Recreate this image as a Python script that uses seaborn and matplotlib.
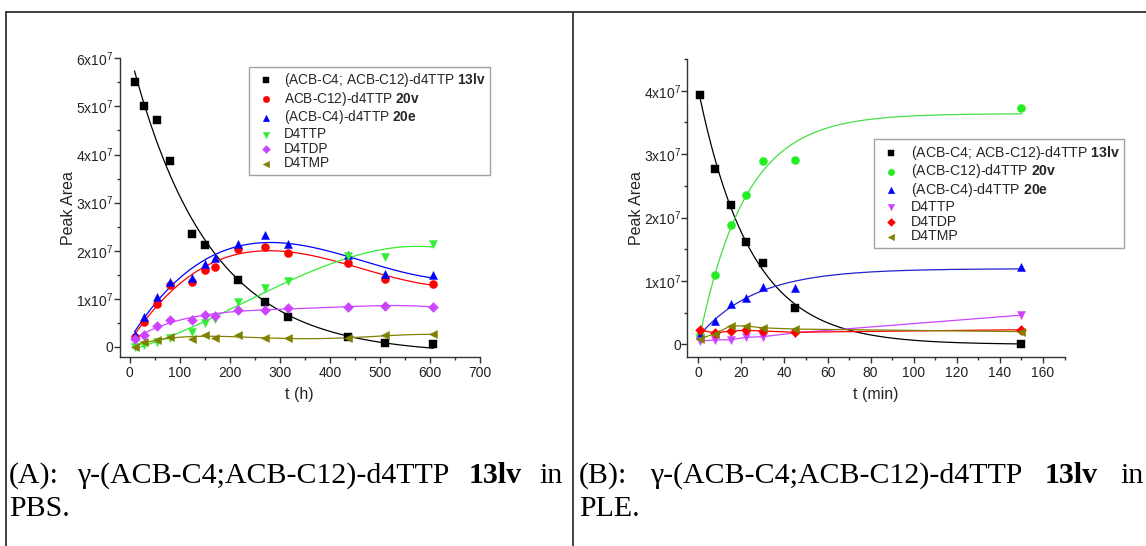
import numpy as np
import matplotlib
matplotlib.use("Agg")
import matplotlib.pyplot as plt
from matplotlib.lines import Line2D
from matplotlib.ticker import MultipleLocator, FuncFormatter
import seaborn as sns

# ---------------- data (peak areas in units of 1e7) ----------------
tA = [10, 28, 54, 80, 124, 150, 170, 217, 270, 317, 437, 511, 607]
tA_black = [10, 28, 54, 80, 124, 150, 217, 270, 317, 437, 511, 607]
A_13lv = [5.51, 5.01, 4.72, 3.87, 2.35, 2.12, 1.40, 0.94, 0.62, 0.20, 0.09, 0.07]
A_20v = [0.20, 0.52, 0.90, 1.28, 1.34, 1.61, 1.67, 2.04, 2.08, 1.95, 1.74, 1.42, 1.31]
A_20e = [0.25, 0.63, 1.03, 1.34, 1.43, 1.73, 1.85, 2.14, 2.33, 2.15, 1.92, 1.51, 1.49]
A_D4TTP = [0.00, 0.05, 0.11, 0.19, 0.32, 0.49, 0.58, 0.94, 1.22, 1.38, 1.90, 1.88, 2.14]
A_D4TDP = [0.17, 0.25, 0.44, 0.55, 0.56, 0.67, 0.65, 0.77, 0.77, 0.80, 0.84, 0.85, 0.83]
A_D4TMP = [0.00, 0.10, 0.15, 0.20, 0.17, 0.24, 0.19, 0.25, 0.18, 0.18, 0.18, 0.24, 0.26]

tB = [1, 8, 15, 22, 30, 45, 150]
B_13lv = [3.93, 2.76, 2.20, 1.62, 1.28, 0.58, 0.00]
B_20v = [0.15, 1.09, 1.88, 2.35, 2.89, 2.91, 3.73]
B_20e = [0.15, 0.37, 0.63, 0.73, 0.91, 0.89, 1.22]
B_D4TTP = [0.05, 0.07, 0.07, 0.11, 0.12, 0.18, 0.46]
B_D4TDP = [0.22, 0.18, 0.21, 0.22, 0.21, 0.19, 0.23]
B_D4TMP = [0.09, 0.17, 0.29, 0.29, 0.26, 0.24, 0.20]

SCALE = 1e7

labels_A = ["(ACB-C4; ACB-C12)-d4TTP $\\mathbf{13lv}$",
            "ACB-C12)-d4TTP $\\mathbf{20v}$",
            "(ACB-C4)-d4TTP $\\mathbf{20e}$",
            "D4TTP", "D4TDP", "D4TMP"]
labels_B = ["(ACB-C4; ACB-C12)-d4TTP $\\mathbf{13lv}$",
            "(ACB-C12)-d4TTP $\\mathbf{20v}$",
            "(ACB-C4)-d4TTP $\\mathbf{20e}$",
            "D4TTP", "D4TDP", "D4TMP"]
caption_A = ["(A):", "\u03b3-(ACB-C4;ACB-C12)-d4TTP", "13lv", "in"]
caption_B = ["(B):", "\u03b3-(ACB-C4;ACB-C12)-d4TTP", "13lv", "in"]
caption_A2 = "PBS."
caption_B2 = "PLE."

# ---------------- style ----------------
sns.set_theme(style="ticks")
plt.rcParams["font.family"] = ["Liberation Sans", "DejaVu Sans"]
plt.rcParams["mathtext.fontset"] = "custom"
plt.rcParams["mathtext.rm"] = "Liberation Sans"
plt.rcParams["mathtext.it"] = "Liberation Sans:italic"
plt.rcParams["mathtext.bf"] = "Liberation Sans:bold"

W, H = 1146, 546
fig = plt.figure(figsize=(W / 100, H / 100), dpi=100)
fig.patch.set_facecolor("white")


def exp_fit_curve(t, y, n=300):
    t = np.asarray(t, float)
    y = np.asarray(y, float)
    best = None
    for k in np.logspace(-4, 0.5, 3000):
        X = np.column_stack([np.exp(-k * t), np.ones_like(t)])
        coef, res, *_ = np.linalg.lstsq(X, y, rcond=None)
        r = np.sum((X @ coef - y) ** 2)
        if best is None or r < best[0]:
            best = (r, k, coef)
    _, k, (a, c) = best
    tt = np.linspace(t.min(), t.max(), n)
    return tt, a * np.exp(-k * tt) + c


def sci_fmt(v, pos):
    m = int(round(v / SCALE))
    if m == 0:
        return "0"
    return f"{m}x10$^{{7}}$"


def style_axes(ax, xmaj, xmin):
    sns.despine(ax=ax)
    for s in ("left", "bottom"):
        ax.spines[s].set_color("#333333")
        ax.spines[s].set_linewidth(1.0)
    ax.xaxis.set_major_locator(MultipleLocator(xmaj))
    ax.xaxis.set_minor_locator(MultipleLocator(xmin))
    ax.yaxis.set_major_locator(MultipleLocator(1e7))
    ax.yaxis.set_minor_locator(MultipleLocator(5e6))
    ax.yaxis.set_major_formatter(FuncFormatter(sci_fmt))
    ax.tick_params(which="major", length=4.3, width=1, color="#333333",
                   labelsize=10, labelcolor="#222222", direction="out", pad=1.8)
    ax.tick_params(axis="y", which="major", pad=0.4)
    ax.tick_params(which="minor", length=2.5, width=1, color="#333333",
                   direction="out")
    ax.set_ylabel("Peak Area", fontsize=11.5, labelpad=0)
    ax.grid(False)


col_black = "#000000"
col_red = "#FF0000"
col_blue = "#0000FF"
col_green = "#33EE33"
col_mag = "#CC44FF"
col_olive = "#808000"

MS = 34
LEG_KW = dict(borderaxespad=0, frameon=True, fancybox=False,
              edgecolor="#8a8a8a", handlelength=1.8, handletextpad=0.45,
              labelspacing=0.05, borderpad=0.32, markerscale=0.8)

# ---------------- panel A ----------------
axA = fig.add_axes([119.5 / W, 1 - 357.3 / H, (480 - 119.5) / W, (357.3 - 58.3) / H])
tt, yy = exp_fit_curve(tA_black, A_13lv)
axA.plot(tt, yy * SCALE, color=col_black, lw=0.9, zorder=2)
for yvals, col, order in [(A_20v, col_red, 3), (A_20e, col_blue, 3),
                          (A_D4TTP, col_green, 3), (A_D4TDP, col_mag, 4),
                          (A_D4TMP, col_olive, 4)]:
    sns.regplot(x=np.array(tA, float), y=np.array(yvals) * SCALE, order=order,
                ci=None, scatter=False, ax=axA, truncate=True,
                line_kws=dict(color=col, lw=0.9, zorder=2))

seriesA = [(tA_black, A_13lv, col_black, "s"), (tA, A_20v, col_red, "o"),
           (tA, A_20e, col_blue, "^"), (tA, A_D4TTP, col_green, "v"),
           (tA, A_D4TDP, col_mag, "D"), (tA, A_D4TMP, col_olive, "<")]
for (t, v, c, m), lab in zip(seriesA, labels_A):
    sns.scatterplot(x=t, y=np.array(v) * SCALE, ax=axA, color=c, marker=m,
                    s=MS if m != "D" else MS * 0.75, edgecolor=c, linewidth=0.3,
                    label=lab, zorder=3)
axA.set_xlim(-20, 700)
axA.set_ylim(-2.15e6, 6.0e7)
style_axes(axA, 100, 50)
axA.set_xlabel("t (h)", fontsize=11.5, labelpad=5)
leg = axA.legend(loc="upper left", bbox_to_anchor=(0.359, 0.972), fontsize=9.85, **LEG_KW)
leg.get_frame().set_linewidth(1.0)

# ---------------- panel B ----------------
axB = fig.add_axes([687.4 / W, 1 - 357.3 / H, (1064.6 - 687.4) / W, (357.3 - 59) / H])
for yvals, col in [(B_13lv, col_black), (B_20v, "#44DD44"), (B_20e, "#2222CC")]:
    tt, yy = exp_fit_curve(tB, yvals)
    axB.plot(tt, yy * SCALE, color=col, lw=0.9, zorder=2)
for yvals, col in [(B_D4TTP, col_mag), (B_D4TDP, col_red), (B_D4TMP, col_olive)]:
    sns.lineplot(x=tB, y=np.array(yvals) * SCALE, ax=axB, color=col, lw=0.9,
                 zorder=2, legend=False)

seriesB = [(B_13lv, col_black, "s"), (B_20v, "#22EE22", "o"), (B_20e, col_blue, "^"),
           (B_D4TTP, col_mag, "v"), (B_D4TDP, col_red, "D"), (B_D4TMP, col_olive, "<")]
for (v, c, m), lab in zip(seriesB, labels_B):
    sns.scatterplot(x=tB, y=np.array(v) * SCALE, ax=axB, color=c, marker=m,
                    s=MS if m != "D" else MS * 0.75, edgecolor=c, linewidth=0.3,
                    label=lab, zorder=3)
axB.set_xlim(-5, 170)
axB.set_ylim(-2.05e6, 4.5e7)
style_axes(axB, 20, 10)
axB.set_xlabel("t (min)", fontsize=11.5, labelpad=5)
legB = axB.legend(loc="upper left", bbox_to_anchor=(0.495, 0.731), fontsize=10.2, **LEG_KW)
legB.get_frame().set_linewidth(1.0)

# ---------------- table borders ----------------
def fig_line(x0, y0, x1, y1):
    fig.add_artist(Line2D([x0 / W, x1 / W], [1 - y0 / H, 1 - y1 / H],
                          transform=fig.transFigure, color="#333333", lw=1.3))

fig_line(6, 12, W, 12)
fig_line(6, 12, 6, H)
fig_line(573, 12, 573, H)

# ---------------- captions (justified) ----------------
renderer = fig.canvas.get_renderer()
cap_kw = dict(fontsize=21.5, family=["Liberation Serif", "DejaVu Serif"], color="black",
              va="baseline", ha="left")


def justified(words, x_left, x_right, y_base, bold_idx):
    texts = []
    for i, w in enumerate(words):
        texts.append(fig.text(0, 1 - y_base / H, w,
                              fontweight="bold" if i in bold_idx else "normal", **cap_kw))
    widths = [t.get_window_extent(renderer).width for t in texts]
    gap = (x_right - x_left - sum(widths)) / (len(words) - 1)
    x = x_left
    for t, w in zip(texts, widths):
        t.set_x(x / W)
        x += w + gap


justified(caption_A, 9, 563, 483, {2})
justified(caption_B, 579, 1144, 483, {2})
fig.text(9 / W, 1 - 516 / H, caption_A2, **cap_kw)
fig.text(579 / W, 1 - 516 / H, caption_B2, **cap_kw)

fig.savefig("out.png", dpi=100, facecolor="white")
